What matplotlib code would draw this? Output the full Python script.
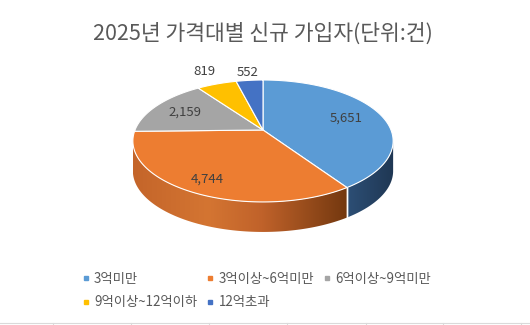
import numpy as np
import matplotlib
matplotlib.use('Agg')
import matplotlib.pyplot as plt
from matplotlib.patches import Polygon
from matplotlib.lines import Line2D
from matplotlib.colors import LinearSegmentedColormap

plt.rcParams['font.family'] = ['Noto Sans CJK KR', 'DejaVu Sans']

# 데이터
labels = ['3억미만', '3억이상~6억미만', '6억이상~9억미만', '9억이상~12억이하', '12억초과']
values = [5651, 4744, 2159, 819, 552]
colors = ['#5b9bd5', '#ed7d31', '#a5a5a5', '#ffc000', '#4472c4']
title = '2025년 가격대별 신규 가입자(단위:건)'

# 3D 파이 모양 (픽셀 단위)
cx, cy = 263, 130
rx, ry = 128, 59
k = 0.18          # 원근감
depth = 30
label_r = [0.70, 0.82, 0.72, 1.33, 1.20]


def proj(theta, f=1.0, dz=0.0):
    t = np.radians(theta)
    u = f * np.sin(t)
    v = f * np.cos(t)
    d = 1 + k * v
    return cx + rx * u / d, cy - ry * v / d + dz


fig = plt.figure(figsize=(5.3, 3.25), dpi=100)
ax = fig.add_axes([0, 0, 1, 1])
ax.set_xlim(0, 530)
ax.set_ylim(325, 0)
ax.axis('off')

total = sum(values)
bounds = np.concatenate([[0], np.cumsum(values) / total * 360])

# 옆면 (앞쪽만 보임)
side_a = np.degrees(np.arccos(-k))
side_b = 360 - side_a
side_cmaps = {
    0: LinearSegmentedColormap.from_list('b', ['#2d4f76', '#1f3753']),
    1: LinearSegmentedColormap.from_list(
        'o', [(0, '#c4652a'), (0.35, '#d47532'), (0.6, '#c0622a'), (1, '#73380f')]),
}
for i in range(len(values)):
    a0 = max(bounds[i], side_a)
    a1 = min(bounds[i + 1], side_b)
    if a1 <= a0:
        continue
    th = np.linspace(a0, a1, 120)
    xt, yt = proj(th)
    xb, yb = proj(th[::-1], dz=depth)
    pts = np.column_stack([np.concatenate([xt, xb]), np.concatenate([yt, yb])])
    poly = Polygon(pts, closed=True, facecolor='none', edgecolor='none')
    ax.add_patch(poly)
    x0, x1 = pts[:, 0].min(), pts[:, 0].max()
    grad = np.linspace(0, 1, 256).reshape(1, -1)
    im = ax.imshow(grad, cmap=side_cmaps.get(i, 'Greys'), aspect='auto',
                   extent=(x0, x1, pts[:, 1].max(), pts[:, 1].min()), zorder=1)
    im.set_clip_path(poly)
    # 경계선
    for a in (bounds[i], bounds[i + 1]):
        if side_a < a < side_b:
            xa, ya = proj(a)
            ax.plot([xa, xa], [ya, ya + depth], color='white', lw=1.0, zorder=2)

# 윗면
for i in range(len(values)):
    th = np.linspace(bounds[i], bounds[i + 1], 120)
    xs, ys = proj(th)
    pts = np.column_stack([np.concatenate([[cx], xs]), np.concatenate([[cy], ys])])
    ax.add_patch(Polygon(pts, closed=True, facecolor=colors[i],
                         edgecolor='white', lw=0.8, zorder=3))

# 데이터 레이블
for i, v in enumerate(values):
    mid = (bounds[i] + bounds[i + 1]) / 2
    lx, ly = proj(mid, label_r[i])
    ax.text(lx, ly, f'{v:,}', ha='center', va='center', fontsize=9.5,
            color='#404040', zorder=5)

fig.text(0.497, 1 - 34 / 325, title, ha='center', va='center',
         fontsize=15.5, color='#595959')

# 범례
handles = [Line2D([], [], marker='s', ls='none', markersize=3.5,
                  markerfacecolor=c, markeredgecolor=c) for c in colors]
order = [0, 3, 1, 4, 2]
fig.legend([handles[j] for j in order], [labels[j] for j in order],
           ncol=3, loc='upper left', bbox_to_anchor=(82 / 530, 1 - 272 / 325),
           frameon=False, fontsize=9.6, labelcolor='#595959',
           handlelength=0.6, handletextpad=0.3, columnspacing=0.7,
           labelspacing=0.7, borderpad=0, borderaxespad=0)

# 아래쪽 셀 경계선
ax.axhline(323, color='#dadada', lw=0.8)
for gx in [53, 131, 209, 287, 366, 443, 521]:
    ax.plot([gx, gx], [323, 325], color='#dadada', lw=0.8)

fig.savefig('out.png', dpi=100, facecolor='white')
